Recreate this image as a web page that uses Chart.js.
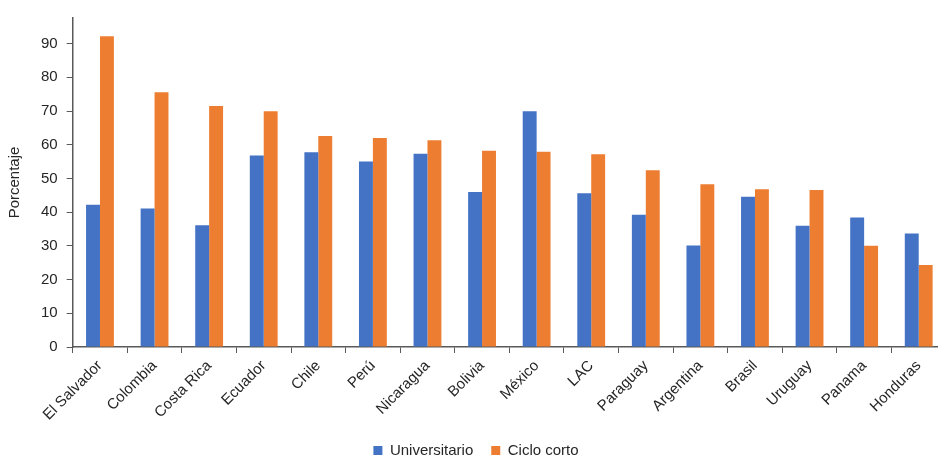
<!DOCTYPE html>
<html>
<head>
<meta charset="utf-8">
<script src="https://cdn.jsdelivr.net/npm/chart.js@4/dist/chart.umd.min.js"></script>
<style>
  html, body { margin: 0; padding: 0; background: #fff; overflow: hidden; }
  #wrap { width: 946px; height: 457px; }
</style>
</head>
<body>
<div id="wrap"><canvas id="grafico"></canvas></div>
<script>
// categorías y valores (porcentaje)
const paises = ['El Salvador', 'Colombia', 'Costa Rica', 'Ecuador', 'Chile', 'Perú', 'Nicaragua', 'Bolivia',
    'México', 'LAC', 'Paraguay', 'Argentina', 'Brasil', 'Uruguay', 'Panama', 'Honduras'];
const universitario = [42.2, 41.1, 36.1, 56.8, 57.8, 55.0, 57.3, 46.0, 69.9, 45.6, 39.2, 30.1, 44.6, 36.0, 38.4, 33.7];
const cicloCorto = [92.2, 75.6, 71.5, 69.9, 62.6, 62.0, 61.3, 58.2, 57.9, 57.2, 52.4, 48.3, 46.8, 46.6, 30.0, 24.3];

Chart.defaults.font.family = '"Liberation Sans", Arial, sans-serif';
Chart.defaults.font.size = 15;
Chart.defaults.color = '#262626';

const ctx = document.getElementById('grafico').getContext('2d');

new Chart(ctx, {
    type: 'bar',
    data: {
        labels: paises,
        datasets: [{
            label: 'Universitario',
            data: universitario,
            backgroundColor: '#4472C4'
        }, {
            label: 'Ciclo corto',
            data: cicloCorto,
            backgroundColor: '#ED7D31'
        }]
    },
    options: {
        responsive: true,
        maintainAspectRatio: false,
        animation: false,
        layout: { padding: { top: 13, right: 0, left: 6, bottom: -11 } },
        datasets: {
            bar: { barPercentage: 1, categoryPercentage: 0.51 }
        },
        plugins: {
            legend: {
                position: 'bottom',
                labels: { boxWidth: 9, boxHeight: 9, padding: 18, color: '#262626' }
            },
            tooltip: { enabled: false }
        },
        scales: {
            x: {
                grid: { drawOnChartArea: false, tickLength: 6, color: '#595959' },
                border: { color: '#595959', width: 1.5 },
                ticks: { maxRotation: 45, minRotation: 45, padding: 4, autoSkip: false },
                afterFit: function (scale) {
                    scale.height = 78;
                }
            },
            y: {
                min: 0,
                max: 97.6,
                grid: { drawOnChartArea: false, tickLength: 6, color: '#595959' },
                border: { color: '#595959', width: 1.5 },
                ticks: { stepSize: 10, padding: 9 },
                afterBuildTicks: function (scale) {
                    scale.ticks = scale.ticks.filter(t => t.value % 10 === 0);
                },
                title: { display: true, text: 'Porcentaje', padding: { top: 0, bottom: 8 } }
            }
        }
    }
});
</script>
</body>
</html>
